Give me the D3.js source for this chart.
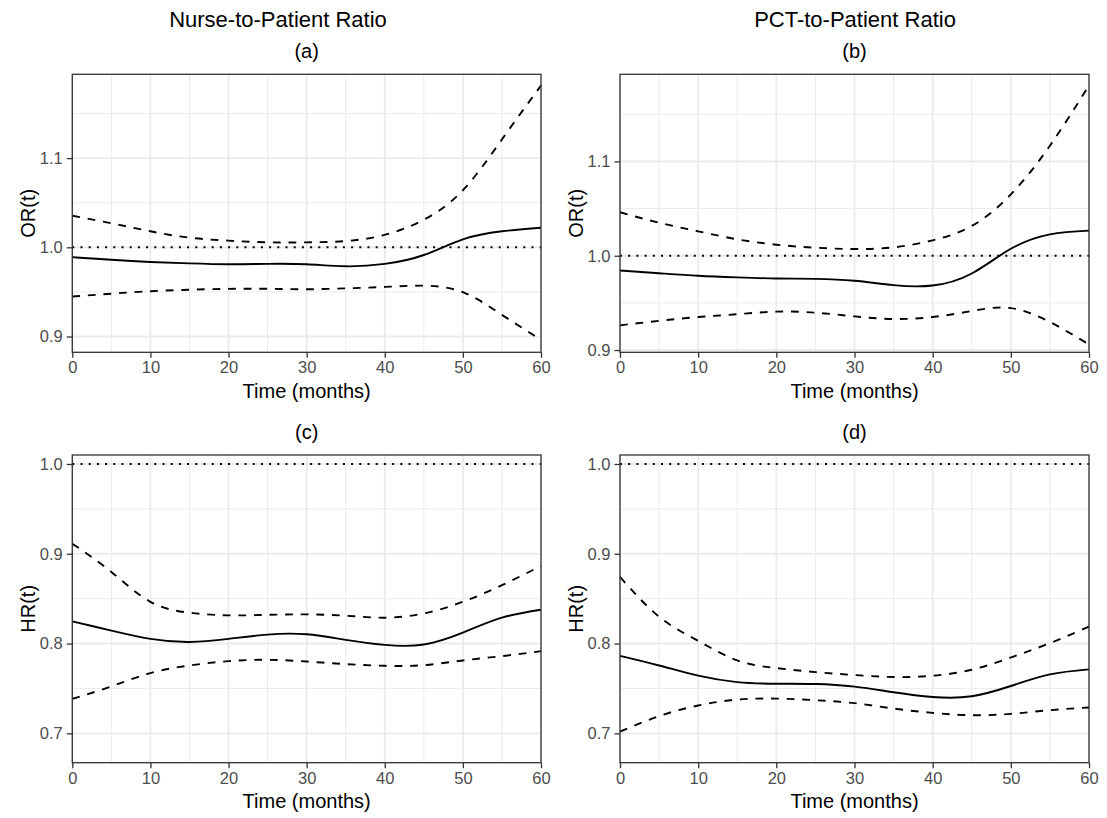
<!DOCTYPE html>
<html>
<head>
<meta charset="utf-8">
<script src="https://cdn.jsdelivr.net/npm/d3@7"></script>
<style>
  html, body { margin: 0; padding: 0; background: #fff; }
  svg { display: block; font-family: "Liberation Sans", Arial, Helvetica, sans-serif; }
</style>
</head>
<body>
<svg id="chart" width="1107" height="818"></svg>
<script>
// Time grid (months) shared by every curve
const months = [0, 5, 10, 15, 20, 25, 30, 35, 40, 45, 50, 55, 60];
const xTicks = [0, 10, 20, 30, 40, 50, 60];

// (a) Nurse-to-Patient ratio, OR(t)
const aEst   = [0.989, 0.986, 0.9836, 0.982, 0.981, 0.9815, 0.981, 0.9787, 0.9814, 0.9914, 1.009, 1.018, 1.022];
const aUpper = [1.0354, 1.027, 1.018, 1.0108, 1.0075, 1.0056, 1.0056, 1.007, 1.014, 1.031, 1.064, 1.121, 1.1815];
const aLower = [0.9448, 0.948, 0.9508, 0.9525, 0.9534, 0.9535, 0.953, 0.954, 0.9556, 0.957, 0.9497, 0.9243, 0.8963];

// (b) PCT-to-Patient ratio, OR(t)
const bEst   = [0.9844, 0.9815, 0.9787, 0.977, 0.9759, 0.9755, 0.9734, 0.9688, 0.9684, 0.9812, 1.0074, 1.0227, 1.0266];
const bUpper = [1.0461, 1.035, 1.0259, 1.0174, 1.0117, 1.0085, 1.0071, 1.0089, 1.0163, 1.0316, 1.065, 1.1167, 1.1806];
const bLower = [0.9262, 0.931, 0.935, 0.938, 0.9407, 0.9396, 0.9357, 0.9329, 0.935, 0.9414, 0.9445, 0.9297, 0.9059];

// (c) Nurse-to-Patient ratio, HR(t)
const cEst   = [0.8247, 0.8144, 0.8052, 0.8018, 0.8052, 0.81, 0.8103, 0.8041, 0.7985, 0.7989, 0.8122, 0.8288, 0.8377];
const cUpper = [0.9112, 0.8798, 0.8465, 0.8344, 0.8314, 0.832, 0.8325, 0.831, 0.8288, 0.8336, 0.8465, 0.865, 0.8864];
const cLower = [0.7383, 0.7523, 0.7671, 0.7756, 0.7804, 0.7819, 0.78, 0.7771, 0.7752, 0.776, 0.7812, 0.786, 0.7915];

// (d) PCT-to-Patient ratio, HR(t)
const dEst   = [0.7863, 0.7756, 0.7642, 0.7571, 0.7553, 0.7549, 0.752, 0.7457, 0.7405, 0.7413, 0.7527, 0.7656, 0.7712];
const dUpper = [0.8742, 0.8299, 0.803, 0.7812, 0.7727, 0.7682, 0.7649, 0.7627, 0.7642, 0.7708, 0.7845, 0.8004, 0.8188];
const dLower = [0.7018, 0.7192, 0.731, 0.7376, 0.7387, 0.7369, 0.7336, 0.7276, 0.7228, 0.7202, 0.7217, 0.7258, 0.7288];

// Axis ticks and ranges
const orTicks = [0.9, 1.0, 1.1];
const orMinor = [0.95, 1.05, 1.15];
const hrTicks = [0.7, 0.8, 0.9, 1.0];
const hrMinor = [0.75, 0.85, 0.95];
const aDomain = [0.8823, 1.194];
const bDomain = [0.8976, 1.1924];
const hrDomain = [0.6673, 1.01];
const refLine = 1.0;

const columnTitles = ["Nurse-to-Patient Ratio", "PCT-to-Patient Ratio"];

const panels = [
  { tag: "(a)", ylab: "OR(t)", est: aEst, up: aUpper, lo: aLower, dom: aDomain, ticks: orTicks, minor: orMinor,
    box: { x0: 72.3, x1: 541, y0: 74.3, y1: 352.3 } },
  { tag: "(b)", ylab: "OR(t)", est: bEst, up: bUpper, lo: bLower, dom: bDomain, ticks: orTicks, minor: orMinor,
    box: { x0: 620, x1: 1089, y0: 74.3, y1: 352.3 } },
  { tag: "(c)", ylab: "HR(t)", est: cEst, up: cUpper, lo: cLower, dom: hrDomain, ticks: hrTicks, minor: hrMinor,
    box: { x0: 72.3, x1: 541, y0: 455, y1: 762.7 } },
  { tag: "(d)", ylab: "HR(t)", est: dEst, up: dUpper, lo: dLower, dom: hrDomain, ticks: hrTicks, minor: hrMinor,
    box: { x0: 620, x1: 1089, y0: 455, y1: 762.7 } }
];

const svg = d3.select("#chart");
const ink = "#333333";
const tickInk = "#4D4D4D";

// Column headings
svg.append("text").attr("x", 278).attr("y", 27).attr("text-anchor", "middle")
  .attr("font-size", 22).attr("fill", "#000").text(columnTitles[0]);
svg.append("text").attr("x", 855).attr("y", 27).attr("text-anchor", "middle")
  .attr("font-size", 22).attr("fill", "#000").text(columnTitles[1]);

panels.forEach(p => {
  const b = p.box;
  const x = d3.scaleLinear().domain([0, 60]).range([b.x0, b.x1]);
  const y = d3.scaleLinear().domain(p.dom).range([b.y1, b.y0]);
  const g = svg.append("g");

  // minor grid
  const minorX = d3.range(5, 60, 10);
  g.selectAll(".mx").data(minorX).join("line")
    .attr("x1", d => x(d)).attr("x2", d => x(d)).attr("y1", b.y0).attr("y2", b.y1)
    .attr("stroke", "#EBEBEB").attr("stroke-width", 1);
  g.selectAll(".my").data(p.minor).join("line")
    .attr("x1", b.x0).attr("x2", b.x1).attr("y1", d => y(d)).attr("y2", d => y(d))
    .attr("stroke", "#EBEBEB").attr("stroke-width", 1);
  // major grid
  g.selectAll(".gx").data(xTicks).join("line")
    .attr("x1", d => x(d)).attr("x2", d => x(d)).attr("y1", b.y0).attr("y2", b.y1)
    .attr("stroke", "#EBEBEB").attr("stroke-width", 1.9);
  g.selectAll(".gy").data(p.ticks).join("line")
    .attr("x1", b.x0).attr("x2", b.x1).attr("y1", d => y(d)).attr("y2", d => y(d))
    .attr("stroke", "#EBEBEB").attr("stroke-width", 1.9);

  // reference line at 1
  g.append("line")
    .attr("x1", b.x0).attr("x2", b.x1).attr("y1", y(refLine)).attr("y2", y(refLine))
    .attr("stroke", "#000").attr("stroke-width", 2).attr("stroke-dasharray", "2,6.2");

  const line = d3.line()
    .x((d, i) => x(months[i]))
    .y(d => y(d))
    .curve(d3.curveNatural);

  g.append("path").attr("d", line(p.up)).attr("fill", "none")
    .attr("stroke", "#000").attr("stroke-width", 1.9).attr("stroke-dasharray", "7.8,7.8");
  g.append("path").attr("d", line(p.lo)).attr("fill", "none")
    .attr("stroke", "#000").attr("stroke-width", 1.9).attr("stroke-dasharray", "7.8,7.8");
  g.append("path").attr("d", line(p.est)).attr("fill", "none")
    .attr("stroke", "#000").attr("stroke-width", 1.9);

  // panel border
  g.append("rect").attr("x", b.x0).attr("y", b.y0)
    .attr("width", b.x1 - b.x0).attr("height", b.y1 - b.y0)
    .attr("fill", "none").attr("stroke", ink).attr("stroke-width", 1.3);

  // x axis
  const xAxis = d3.axisBottom(x).tickValues(xTicks).tickSize(5.5).tickPadding(3).tickFormat(d3.format("d"));
  const xg = g.append("g").attr("transform", `translate(0,${b.y1})`).call(xAxis);
  xg.select(".domain").remove();
  xg.selectAll("line").attr("stroke", ink).attr("stroke-width", 1.3);
  xg.selectAll("text").attr("fill", tickInk).attr("font-size", 16.5)
    .attr("font-family", "Liberation Sans, Arial, sans-serif").attr("dy", "0.75em");

  // y axis
  const yAxis = d3.axisLeft(y).tickValues(p.ticks).tickSize(5.5).tickPadding(4).tickFormat(d3.format(".1f"));
  const yg = g.append("g").attr("transform", `translate(${b.x0},0)`).call(yAxis);
  yg.select(".domain").remove();
  yg.selectAll("line").attr("stroke", ink).attr("stroke-width", 1.3);
  yg.selectAll("text").attr("fill", tickInk).attr("font-size", 16.5)
    .attr("font-family", "Liberation Sans, Arial, sans-serif");

  // titles
  g.append("text").attr("x", (b.x0 + b.x1) / 2).attr("y", b.y0 - 16)
    .attr("text-anchor", "middle").attr("font-size", 20).attr("fill", "#000").text(p.tag);
  g.append("text").attr("x", (b.x0 + b.x1) / 2).attr("y", b.y1 + 45.5)
    .attr("text-anchor", "middle").attr("font-size", 20).attr("fill", "#000").text("Time (months)");
  g.append("text")
    .attr("transform", `translate(${b.x0 - 37},${(b.y0 + b.y1) / 2}) rotate(-90)`)
    .attr("text-anchor", "middle").attr("font-size", 20).attr("fill", "#000").text(p.ylab);
});
</script>
</body>
</html>
